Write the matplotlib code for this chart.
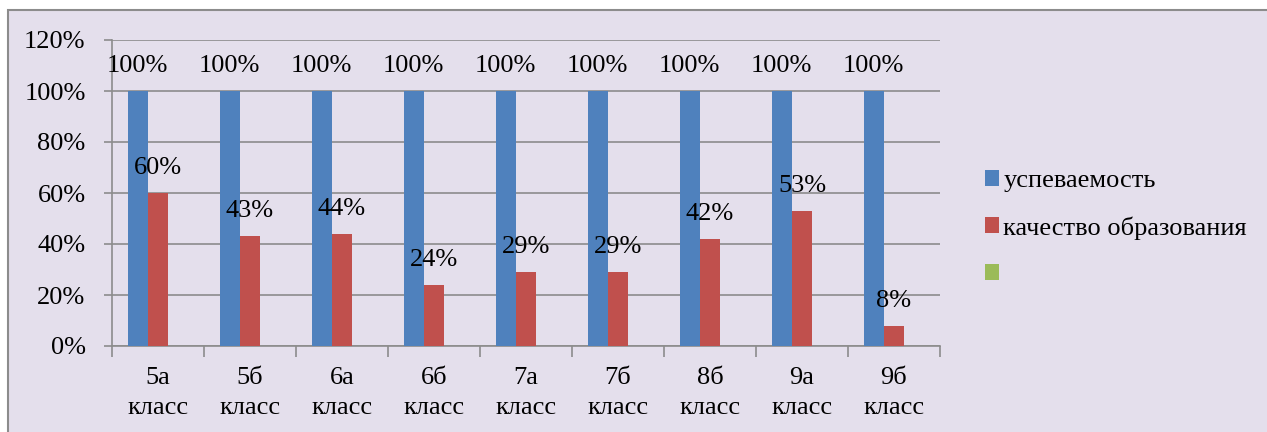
import matplotlib.pyplot as plt
import matplotlib.patches as mpatches
import numpy as np

categories = ["5а\nкласс", "5б\nкласс", "6а\nкласс", "6б\nкласс", "7а\nкласс",
              "7б\nкласс", "8б\nкласс", "9а\nкласс", "9б\nкласс"]
uspevaemost = [100, 100, 100, 100, 100, 100, 100, 100, 100]
kachestvo = [60, 43, 44, 24, 29, 29, 42, 53, 8]
third = [0, 0, 0, 0, 0, 0, 0, 0, 0]
yticks = [0, 20, 40, 60, 80, 100, 120]

fam = ["Liberation Serif", "DejaVu Serif"]
plt.rcParams['font.family'] = fam
bg = "#E4DFEC"
grid = "#8C8C8C"
fs = 19

fig = plt.figure(figsize=(12.67, 4.32), dpi=100, facecolor="white")
# chart area frame, runs past the right and bottom edges
fig.patches.append(mpatches.Rectangle((8 / 1267, -0.05), 1.0, 1.05 - 10 / 432,
                                      transform=fig.transFigure, facecolor=bg,
                                      edgecolor=grid, linewidth=1.5, zorder=-1))
ax = fig.add_axes([112 / 1267, 1 - 346 / 432, 828 / 1267, 306 / 432])
ax.set_facecolor("none")

x = np.arange(len(categories))
w = 0.22
b1 = ax.bar(x - w, uspevaemost, w, color="#4F81BD", label="успеваемость", zorder=3)
b2 = ax.bar(x, kachestvo, w, color="#C0504D", label="качество образования", zorder=3)
b3 = ax.bar(x + w, third, w, color="#9BBB59", label=" ", zorder=3)

for bars, vals in [(b1, uspevaemost), (b2, kachestvo)]:
    for r, v in zip(bars, vals):
        ax.annotate(f"{v}%", (r.get_x() + r.get_width() / 2, v), xytext=(0, 18),
                    textcoords="offset points", ha="center", va="center",
                    fontsize=fs, family=fam, zorder=4)

ax.set_ylim(0, 120)
ax.set_xlim(-0.5, len(categories) - 0.5)
ax.set_yticks(yticks)
ax.set_yticklabels([f"{t}%" for t in yticks], fontsize=fs, family=fam)
ax.yaxis.grid(True, color=grid, linewidth=1.2, zorder=0)
ax.set_axisbelow(True)

ax.set_xticks(x)
ax.set_xticklabels(categories, fontsize=fs, family=fam, linespacing=1.5)
ax.tick_params(axis="x", length=0, pad=15)
ax.set_xticks(np.arange(-0.5, len(categories)), minor=True)
ax.tick_params(axis="x", which="minor", length=8, color=grid, width=1.2)
ax.tick_params(axis="y", length=6, color=grid, width=1.2, pad=13)

for s in ["top", "right"]:
    ax.spines[s].set_visible(False)
for s in ["left", "bottom"]:
    ax.spines[s].set_color(grid)
    ax.spines[s].set_linewidth(1.2)

fig.legend(handles=[b1, b2, b3], loc="center left", bbox_to_anchor=(961 / 1267, 1 - 228 / 432),
           frameon=False, prop={"family": fam, "size": fs}, handlelength=0.55, handleheight=0.55,
           handletextpad=0.15, labelspacing=0.92)

plt.savefig("out.png", dpi=100, facecolor="white")
